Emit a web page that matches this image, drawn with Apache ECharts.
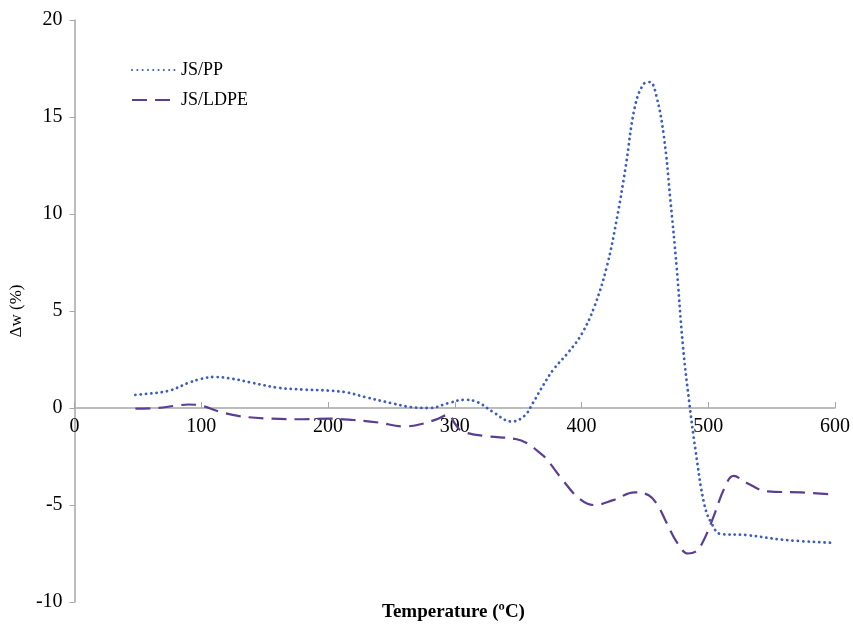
<!DOCTYPE html>
<html>
<head>
<meta charset="utf-8">
<script src="https://cdn.jsdelivr.net/npm/echarts@6/dist/echarts.min.js"></script>
<style>
  html, body { margin: 0; padding: 0; background: #fff; }
  #chart { width: 853px; height: 625px; }
</style>
</head>
<body>
<div id="chart"></div>
<script>
// 数据 JS/PP (temperature, Δw)
const ppData = [
  [48, 0.68], [60, 0.75], [75, 0.9], [90, 1.3], [100, 1.5], [110, 1.6], [125, 1.5],
  [140, 1.3], [160, 1.05], [180, 0.95], [200, 0.9], [215, 0.8], [230, 0.55], [250, 0.25],
  [265, 0.05], [280, 0.0], [295, 0.25], [307, 0.42], [318, 0.3], [330, -0.2], [345, -0.7],
  [355, -0.4], [362, 0.3], [370, 1.2], [378, 2.0], [390, 2.9], [400, 3.8], [410, 5.2],
  [420, 7.3], [428, 9.8], [435, 12.5], [442, 15.5], [449, 16.7], [454, 16.8], [459, 16.1],
  [465, 14.0], [470, 10.8], [475, 7.3], [480, 3.2], [485, 0.3], [490, -2.2], [497, -5.0],
  [503, -6.0], [510, -6.5], [530, -6.55], [560, -6.8], [598, -6.95]
]
// 数据 JS/LDPE
const ldpeData = [
  [48, -0.03], [65, 0.0], [80, 0.12], [90, 0.18], [100, 0.12], [115, -0.2], [130, -0.42],
  [155, -0.55], [180, -0.58], [200, -0.55], [220, -0.62], [240, -0.75], [260, -0.95],
  [272, -0.85], [285, -0.6], [295, -0.35], [300, -0.8], [306, -1.2], [325, -1.45],
  [348, -1.6], [358, -1.85], [365, -2.2], [372, -2.6], [385, -3.7], [398, -4.65],
  [410, -5.0], [425, -4.75], [442, -4.35], [453, -4.5], [460, -5.0], [467, -5.9],
  [476, -7.0], [484, -7.5], [490, -7.4], [495, -7.0], [503, -5.8], [513, -4.1],
  [520, -3.5], [530, -3.85], [547, -4.3], [573, -4.35], [598, -4.45]
]
const seriesNames = ['JS/PP', 'JS/LDPE']

const font = 'Liberation Serif'
const axisGray = '#a6a6a6'

const chart = echarts.init(document.getElementById('chart'))

chart.setOption({
  backgroundColor: '#fff',
  animation: false,
  grid: { left: 74, right: 16, top: 20, bottom: 23 },
  legend: {
    orient: 'vertical',
    left: 126,
    top: 56,
    itemWidth: 44,
    itemHeight: 10,
    itemGap: 12,
    itemStyle: { opacity: 0 },
    textStyle: { fontFamily: font, fontSize: 18, color: '#000' },
    data: seriesNames
  },
  xAxis: {
    type: 'value',
    min: 0,
    max: 600,
    interval: 100,
    // 轴线放在 y=0 处, 用 offset 整体上移
    offset: -194,
    axisLine: { onZero: false, lineStyle: { color: axisGray, width: 1.5 } },
    axisTick: { inside: true, length: 6, lineStyle: { color: axisGray } },
    axisLabel: { fontFamily: font, fontSize: 20, color: '#000', margin: 9 },
    splitLine: { show: false }
  },
  yAxis: {
    type: 'value',
    min: -10,
    max: 20,
    interval: 5,
    name: 'Δw (%)',
    nameLocation: 'middle',
    nameGap: 42,
    nameTextStyle: { fontFamily: font, fontSize: 17, color: '#000' },
    axisLine: { show: true, lineStyle: { color: axisGray, width: 1.5 } },
    axisTick: { show: true, length: 5, lineStyle: { color: axisGray } },
    axisLabel: { fontFamily: font, fontSize: 20, color: '#000', margin: 12 },
    splitLine: { show: false }
  },
  graphic: [{
    type: 'text',
    left: 382,
    top: 603,
    style: {
      text: 'Temperature (ºC)',
      font: 'bold 19px "Liberation Serif"',
      fill: '#000'
    }
  }],
  series: [
    {
      name: seriesNames[0],
      type: 'line',
      data: ppData,
      smooth: 0.4,
      symbol: 'none',
      color: '#3b5cc4',
      lineStyle: { color: '#3b5cc4', width: 2.8, type: [0.1, 5.2], cap: 'round' }
    },
    {
      name: seriesNames[1],
      type: 'line',
      data: ldpeData,
      smooth: 0.4,
      symbol: 'none',
      color: '#5b3d92',
      lineStyle: { color: '#5b3d92', width: 2.2, type: [15, 8] }
    }
  ]
})
</script>
</body>
</html>
